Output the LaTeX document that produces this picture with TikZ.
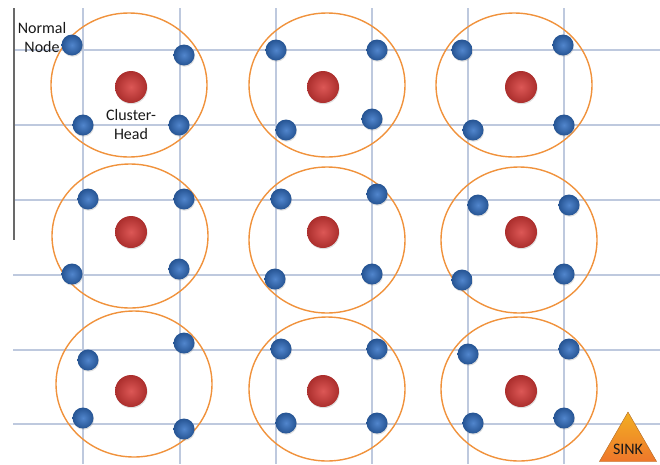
\documentclass[tikz,border=0pt]{standalone}
\usepackage{fontspec}
\setmainfont{Carlito}
\usetikzlibrary{shapes.geometric,shadows}

\definecolor{gridblue}{RGB}{190,201,222}
\definecolor{axisgray}{RGB}{105,105,105}
\definecolor{ringorange}{RGB}{240,146,60}
\definecolor{headred}{RGB}{214,58,56}
\definecolor{nodeblue}{RGB}{50,112,196}
\definecolor{sinkorange}{RGB}{236,140,50}

\tikzset{
  gridline/.style={draw=gridblue, line width=1.4pt},
  ring/.style={draw=ringorange, line width=1.4pt},
  headnode/.style={circle, minimum size=32pt, inner sep=0pt, shading=radial,
    inner color=headred!85!white, outer color=headred!80!black,
    drop shadow={opacity=0.25, shadow xshift=0.6pt, shadow yshift=-1.2pt}},
  normalnode/.style={circle, minimum size=21pt, inner sep=0pt, shading=radial,
    inner color=nodeblue!85!white, outer color=nodeblue!75!black,
    drop shadow={opacity=0.25, shadow xshift=0.6pt, shadow yshift=-1.2pt}},
  tag/.style={font=\fontsize{16}{19}\selectfont, text=black!90, align=center, inner sep=0pt},
}

\begin{document}
\begin{tikzpicture}[x=1pt, y=-1pt]
  \useasboundingbox (0,0) rectangle (660,464);

  % Draw the grid
  \foreach \gx in {83,180,276,372,468,564}
    \draw[gridline] (\gx,8) -- (\gx,464);
  \foreach \gy in {50,125,200,275,350,424}
    \draw[gridline] (13,\gy) -- (660,\gy);
  \draw[axisgray, line width=2pt] (14,8) -- (14,240);

  % Draw the cluster rings
  \draw[ring] (129,85) ellipse (78 and 72);
  \draw[ring] (327,85) ellipse (78 and 72);
  \draw[ring] (514,85) ellipse (78 and 72);
  \draw[ring] (130,236) ellipse (78 and 72);
  \draw[ring] (327,240) ellipse (78 and 73);
  \draw[ring] (519,240) ellipse (78 and 73);
  \draw[ring] (134,384) ellipse (78 and 73);
  \draw[ring] (327,389) ellipse (78 and 72);
  \draw[ring] (519,389) ellipse (78 and 72);

  % Draw the cluster heads
  \node[headnode] (ch11) at (131,87) {};
  \node[headnode] (ch12) at (323,87) {};
  \node[headnode] (ch13) at (521,87) {};
  \node[headnode] (ch21) at (131,232) {};
  \node[headnode] (ch22) at (323,232) {};
  \node[headnode] (ch23) at (521,232) {};
  \node[headnode] (ch31) at (131,391) {};
  \node[headnode] (ch32) at (323,391) {};
  \node[headnode] (ch33) at (521,391) {};

  % Draw the normal nodes, first row
  \node[normalnode] (n11a) at (72,45) {};
  \node[normalnode] (n11b) at (184,55) {};
  \node[normalnode] (n11c) at (83,125) {};
  \node[normalnode] (n11d) at (179,125) {};
  \node[normalnode] (n12a) at (276,50) {};
  \node[normalnode] (n12b) at (377,50) {};
  \node[normalnode] (n12c) at (286,130) {};
  \node[normalnode] (n12d) at (372,119) {};
  \node[normalnode] (n13a) at (462,50) {};
  \node[normalnode] (n13b) at (563,45) {};
  \node[normalnode] (n13c) at (473,130) {};
  \node[normalnode] (n13d) at (564,125) {};

  % Draw the normal nodes, second row
  \node[normalnode] (n21a) at (88,199) {};
  \node[normalnode] (n21b) at (184,199) {};
  \node[normalnode] (n21c) at (72,274) {};
  \node[normalnode] (n21d) at (179,269) {};
  \node[normalnode] (n22a) at (281,199) {};
  \node[normalnode] (n22b) at (377,194) {};
  \node[normalnode] (n22c) at (275,279) {};
  \node[normalnode] (n22d) at (372,274) {};
  \node[normalnode] (n23a) at (478,205) {};
  \node[normalnode] (n23b) at (569,205) {};
  \node[normalnode] (n23c) at (462,280) {};
  \node[normalnode] (n23d) at (564,274) {};

  % Draw the normal nodes, third row
  \node[normalnode] (n31a) at (88,360) {};
  \node[normalnode] (n31b) at (184,343) {};
  \node[normalnode] (n31c) at (83,418) {};
  \node[normalnode] (n31d) at (184,429) {};
  \node[normalnode] (n32a) at (281,349) {};
  \node[normalnode] (n32b) at (377,349) {};
  \node[normalnode] (n32c) at (286,423) {};
  \node[normalnode] (n32d) at (377,423) {};
  \node[normalnode] (n33a) at (468,354) {};
  \node[normalnode] (n33b) at (569,349) {};
  \node[normalnode] (n33c) at (473,423) {};
  \node[normalnode] (n33d) at (564,418) {};

  % Add the labels
  \node[tag] (normaltag) at (42,37) {Normal\\Node};
  \node[tag] (headtag) at (131,124) {Cluster-\\Head};

  % Draw the sink
  \node[regular polygon, regular polygon sides=3, minimum size=66pt, inner sep=0pt,
    shading=axis, top color=sinkorange!70!yellow, bottom color=sinkorange!85!red,
    draw=sinkorange!75!black, line width=0.4pt] (sink) at (628,445) {};
  \node[font=\fontsize{16}{16}\selectfont, text=black!90, inner sep=0pt] (sinktag) at (628,449) {SINK};
\end{tikzpicture}
\end{document}
